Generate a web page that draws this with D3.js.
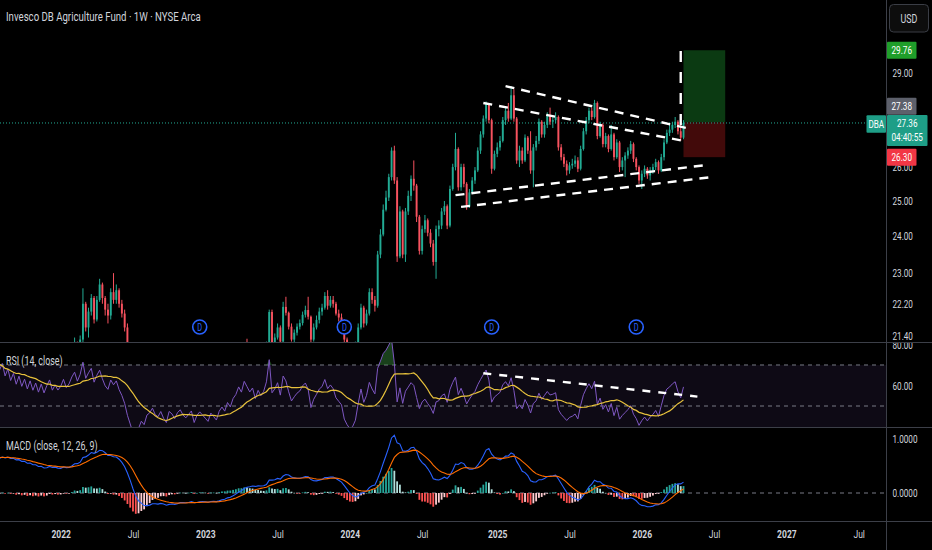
<!DOCTYPE html>
<html>
  <head>
    <meta charset="utf-8">
    <title>DBA 1W</title>
    <script type="text/javascript" src="https://cdn.jsdelivr.net/npm/d3@7/dist/d3.min.js"></script>
    <style>
      body { margin: 0; background: #000; }
      svg { display: block; }
      text { font-family: Roboto, "Noto Sans", sans-serif; }
    </style>
  </head>
  <body>
<script type="text/javascript">
// weekly bars: close, or [close, high, low]; open = prior close
var bars2020 = [14.5, 14.7, 14.6, 14.8, 15.0, 14.9, 15.1, 15.3, 15.2, 15.4, 15.6, 15.5, 15.8];
var bars2021 = [16.0, 16.3, 16.1, 16.4, 16.6, 16.4, 16.8, 16.6, 16.5, 16.9, 16.7, 17.0, 17.2,
  17.0, 17.4, 17.8, 18.0, 18.3, 18.6, 18.2, 18.4, 18.6, 18.3, 18.0, 18.4, 18.2,
  18.6, 18.9, 18.5, 18.9, 19.0, 19.4, 19.05, 19.45, 19.1, 19.5, 19.15, 19.6, 19.25,
  19.65, 19.3, 19.75, 19.4, 19.8, 19.45, 19.9, 19.55, 19.95, 20.3, 19.9, 20.2, 20.0];
var bars2022 = [
  [20.2,20.35,19.95],[20.6,20.7,20.1],[20.3,20.75,20.2],[20.5,20.6,20.2],[20.9,21.0,20.4],
  [21.2,21.35,20.85],[20.9,21.25,20.8],[21.3,21.4,20.85],[22.2,22.6,21.1],
  [21.6,22.25,21.5],[22.0,22.1,21.35],[22.35,22.45,21.9],[21.8,22.4,21.7],
  [22.3,22.4,21.75],[22.7,22.85,22.25],[22.35,22.75,22.2],[22.05,22.4,21.9],
  [21.9,22.2,21.7],[22.5,22.6,21.8],[22.3,23.0,22.2],[22.55,22.7,22.2],[22.2,22.6,22.1],
  [21.95,22.3,21.85],[21.6,22.05,21.5],[21.0,21.7,20.9],[20.5,21.1,20.3],
  19.9, 19.7, 20.0, 20.3,
  20.1, 20.5, 20.6, 20.8, 20.5,
  20.4, 20.6, 20.3, 20.1,
  20.5, 20.4, 20.2, 20.4, 20.5,
  20.3, 20.2, 20.3, 20.4,
  20.0, 20.2, 20.3, 20.2];
var bars2023 = [
  20.1, 20.0, 20.2, 20.1, 20.0,
  20.2, 20.3, 20.2, 20.4,
  20.3, 20.5, 20.6, 20.8,
  20.7, 21.0, [20.9,21.32,20.8], 20.8,
  20.9, 20.7, 20.9, 20.8, 20.9,
  [21.15,21.25,20.8],[21.99,22.05,21.1],[21.2,22.05,21.1],[21.35,21.45,21.1],
  [21.6,21.7,21.3],[21.25,21.65,21.15],[22.12,22.25,21.2],[21.97,22.38,21.9],[21.62,22.0,21.55],
  [21.3,21.7,21.25],[21.47,21.55,21.15],[21.62,21.7,21.4],[21.71,21.8,21.55],
  [21.92,22.0,21.65],[22.04,22.15,21.85],[21.87,22.38,21.8],[21.3,21.9,21.2],
  [21.6,21.7,21.25],[21.79,21.9,21.55],[22.0,22.1,21.7],[22.1,22.2,21.9],[22.4,22.5,22.05],
  [22.15,22.55,22.05],[22.3,22.4,22.1],[22.2,22.4,22.1],[21.95,22.25,21.9],
  [21.85,22.05,21.75],[21.75,21.95,21.6],[21.3,21.8,21.2],[21.1,21.35,21.0]];
var bars2024 = [
  [20.95,21.15,20.85],[21.0,21.1,20.8],[21.15,21.25,20.95],[21.6,21.7,21.1],[22.1,22.2,21.55],
  [21.7,22.15,21.6],[21.95,22.05,21.65],[22.5,22.6,21.9],[22.3,22.6,22.2],
  [22.15,22.4,22.0],[23.5,23.6,22.1],[24.05,24.2,23.4],[24.75,24.9,24.0],
  [25.1,25.3,24.7],[25.7,25.8,25.0],[26.5,26.6,25.6],[25.6,26.65,25.5],[23.45,25.7,23.3],
  [24.7,24.85,23.4],[23.5,24.75,23.4],[24.7,24.8,23.3],[25.15,25.3,24.6],
  [25.65,25.75,25.0],[25.45,26.2,25.3],[24.55,25.5,24.4],[23.6,24.6,23.5],
  [24.2,24.3,23.5],[24.45,24.6,24.1],[24.1,24.5,24.0],[23.8,24.2,23.7],[23.3,23.9,23.2],
  [24.2,24.3,22.85],[24.3,24.45,24.0],[24.7,24.8,24.2],[24.85,25.0,24.6],
  [24.3,24.9,24.2],[25.35,25.45,24.25],[26.0,26.1,25.3],[26.55,27.05,25.9],[25.4,26.6,25.3],
  [26.0,26.1,25.3],[25.5,26.1,25.4],[24.85,25.55,24.75],[25.25,25.35,24.8],
  [25.6,25.7,25.2],[25.9,26.0,25.5],[26.5,26.6,25.85],[27.0,27.1,26.4],
  [27.5,27.6,26.9],[28.0,28.05,27.4],[27.45,28.0,27.35],[25.95,27.5,25.8],[26.4,26.5,25.9]];
var bars2025 = [
  [26.6,26.75,26.3],[26.8,26.95,26.5],[27.45,27.55,26.75],[27.75,27.9,27.3],
  [27.5,28.0,27.4],[28.25,28.55,27.45],[27.5,28.45,27.4],[26.2,27.55,26.1],
  [26.5,26.65,26.0],[26.2,26.6,26.1],[26.9,27.0,26.15],[26.5,26.95,26.4],[25.9,27.1,25.8],
  [26.6,26.7,25.4],[26.8,26.95,26.5],[27.4,27.5,26.7],[27.0,27.45,26.9],
  [27.3,27.4,26.9],[27.6,27.7,27.2],[27.4,27.85,27.3],[27.45,27.6,27.2],
  [27.55,27.7,27.35],[26.6,27.6,26.5],[26.3,26.7,26.2],[26.1,26.4,26.0],[25.9,26.2,25.75],
  [26.05,26.15,25.8],[26.1,26.25,25.95],[26.2,26.35,26.0],[25.95,26.3,25.85],
  [26.55,26.65,25.9],[27.1,27.2,26.5],[27.45,27.55,27.0],[27.75,27.85,27.35],
  [27.55,27.85,27.45],[28.0,28.1,27.5],[26.95,28.05,26.85],[27.3,27.4,26.9],[26.7,27.35,26.6],
  [26.95,27.05,26.6],[26.55,27.0,26.45],[27.0,27.3,26.5],[26.3,27.05,26.2],
  [26.75,26.85,26.25],[26.0,26.8,25.85],[26.2,26.3,25.9],[26.35,26.45,25.7],
  [26.5,26.6,26.25],[26.7,26.8,26.4],[26.25,26.75,26.15],[26.0,26.3,25.9],[25.6,26.05,25.5]];
var bars2026 = [
  [25.8,25.9,25.35],[25.95,26.05,25.7],[25.75,26.0,25.65],[25.9,26.0,25.6],
  [26.0,26.1,25.8],[26.15,26.25,25.9],[25.9,26.2,25.8],[26.3,26.4,25.85],
  [26.75,26.85,26.2],[27.05,27.15,26.7],[27.15,27.3,26.95],[27.3,27.4,27.05],[27.4,27.55,27.2],
  [27.1,27.45,27.0],[26.9,27.3,26.8],[27.36,27.45,26.85]];
var yearStarts = [["2020-10-05", bars2020], ["2021-01-04", bars2021], ["2022-01-03", bars2022],
  ["2023-01-02", bars2023], ["2024-01-01", bars2024], ["2025-01-06", bars2025], ["2026-01-05", bars2026]];

var title = "Invesco DB Agriculture Fund \u00b7 1W \u00b7 NYSE Arca";
var symbol = "DBA", lastPrice = 27.36, countdown = "04:40:55";
var position = {start: "2026-04-20", end: "2026-08-03", target: 29.76, entry: 27.38, stop: 26.30};
var priceTicks = [29, 26, 25, 24, 23, 22.2, 21.4];
var rsiTicks = [80, 60];
var macdTicks = [1, 0];
var timeTicks = ["2022-01-03", "2022-07-04", "2023-01-02", "2023-07-03", "2024-01-01", "2024-07-01",
  "2025-01-06", "2025-07-07", "2026-01-05", "2026-07-06", "2027-01-04", "2027-07-05"];
var timeLabels = ["2022", "Jul", "2023", "Jul", "2024", "Jul", "2025", "Jul", "2026", "Jul", "2027", "Jul"];
var dividends = ["2022-12-19", "2023-12-18", "2024-12-23", "2025-12-22"];
// hand drawn lines: [date, price]
var priceLines = [
  [["2025-01-27", 28.55], ["2026-05-04", 27.18]],
  [["2024-12-02", 28.0], ["2026-04-20", 26.8]],
  [["2024-09-23", 25.17], ["2026-06-15", 26.06]],
  [["2024-10-07", 24.83], ["2026-06-29", 25.7]]
];
var markLine = [["2026-04-13", 27.3], ["2026-04-13", 29.95]];
var rsiLine = [["2024-12-02", 66.0], ["2026-05-25", 54.6]];

var w = 932, h = 550, axisX = 886;
var up = "#22ab94", down = "#f7525f";
var parse = d3.utcParse("%Y-%m-%d");

var bars = [];
yearStarts.forEach(function(ys) {
  var d0 = parse(ys[0]);
  ys[1].forEach(function(v, i) {
    var c = Array.isArray(v) ? v[0] : v;
    bars.push({date: d3.utcDay.offset(d0, 7 * i), c: c,
      hi: Array.isArray(v) ? v[1] : c, lo: Array.isArray(v) ? v[2] : c});
  });
});
bars.forEach(function(d, i) {
  d.o = i ? bars[i - 1].c : d.c;
  d.high = Math.max(d.hi, d.o, d.c);
  d.low = Math.min(d.lo, d.o, d.c);
});

// indicators from the closes
function ema(src, n) {
  var a = 2 / (n + 1), out = [], prev;
  src.forEach(function(v, i) { prev = i === 0 ? v : a * v + (1 - a) * prev; out.push(prev); });
  return out;
}
var closes = bars.map(function(d) { return d.c; });
var e12 = ema(closes, 12), e26 = ema(closes, 26);
var macd = e12.map(function(v, i) { return v - e26[i]; });
var signal = ema(macd, 9);
bars.forEach(function(d, i) { d.macd = macd[i]; d.sig = signal[i]; d.hist = macd[i] - signal[i]; });

var ag = 0, al = 0;
bars.forEach(function(d, i) {
  d.rsi = null;
  if (i === 0) return;
  var ch = d.c - bars[i - 1].c, g = Math.max(ch, 0), l = Math.max(-ch, 0);
  if (i <= 14) { ag += g; al += l; if (i === 14) { ag /= 14; al /= 14; } else return; }
  else { ag = (ag * 13 + g) / 14; al = (al * 13 + l) / 14; }
  d.rsi = al === 0 ? 100 : 100 - 100 / (1 + ag / al);
});
bars.forEach(function(d, i) {
  d.rsiMa = null;
  if (i < 27) return;
  d.rsiMa = d3.mean(bars.slice(i - 13, i + 1), function(b) { return b.rsi; });
});

var svg = d3.select("body").append("svg").attr("width", w).attr("height", h)
  .style("background", "#000");

var x = d3.scaleUtc().domain([parse("2022-01-03"), parse("2026-01-05")]).range([60.7, 641.8]);
var yP = d3.scaleLog().domain([21.24, 31.54]).range([342, 0]);
var yR = d3.scaleLinear().domain([39.76, 80.73]).range([427, 343]);
var yM = d3.scaleLinear().domain([-0.5185, 1.2037]).range([521, 428]);

var defs = svg.append("defs");
function clip(id, y0, y1, x0, x1) {
  defs.append("clipPath").attr("id", id).append("rect")
    .attr("x", x0).attr("y", y0).attr("width", x1 - x0).attr("height", y1 - y0);
}
clip("cp", 0, 342, 0, axisX);
clip("cr", 343, 427, 0, axisX);
clip("cm", 428, 521, 0, axisX);
clip("ar", 343, 427, axisX, w);
clip("am", 428, 521, axisX, w);

// ---- price pane
var gP = svg.append("g").attr("clip-path", "url(#cp)");

// long position box
gP.append("rect").attr("x", x(parse(position.start))).attr("width", x(parse(position.end)) - x(parse(position.start)))
  .attr("y", yP(position.target)).attr("height", yP(position.entry) - yP(position.target)).attr("fill", "#0b3a12");
gP.append("rect").attr("x", x(parse(position.start))).attr("width", x(parse(position.end)) - x(parse(position.start)))
  .attr("y", yP(position.entry)).attr("height", yP(position.stop) - yP(position.entry)).attr("fill", "#420a0a");

gP.append("line").attr("x1", 0).attr("x2", axisX).attr("y1", yP(lastPrice)).attr("y2", yP(lastPrice))
  .attr("stroke", up).attr("stroke-dasharray", "1,2").attr("stroke-width", 1);

var color = function(d) { return d.c >= d.o ? up : down; };
var cg = gP.selectAll("g.bar").data(bars).enter().append("g").attr("class", "bar");
cg.append("line")
  .attr("x1", function(d) { return x(d.date); }).attr("x2", function(d) { return x(d.date); })
  .attr("y1", function(d) { return yP(d.high); }).attr("y2", function(d) { return yP(d.low); })
  .attr("stroke", color).attr("stroke-width", 1);
cg.append("rect")
  .attr("x", function(d) { return x(d.date) - 0.95; }).attr("width", 1.9)
  .attr("y", function(d) { return yP(Math.max(d.o, d.c)); })
  .attr("height", function(d) { return Math.max(0.8, Math.abs(yP(d.o) - yP(d.c))); })
  .attr("fill", color);

var ptLine = d3.line().x(function(p) { return x(parse(p[0])); }).y(function(p) { return yP(p[1]); });
priceLines.forEach(function(l) {
  gP.append("path").attr("d", ptLine(l)).attr("stroke", "#fff").attr("stroke-width", 2.4)
    .attr("stroke-dasharray", "9,7").attr("fill", "none");
});
gP.append("path").attr("d", ptLine(markLine)).attr("stroke", "#fff").attr("stroke-width", 2.4)
  .attr("stroke-dasharray", "11,10").attr("fill", "none");

// dividend marks
var dv = gP.selectAll("g.div").data(dividends).enter().append("g")
  .attr("transform", function(d) { return "translate(" + x(parse(d)) + ",327)"; });
dv.append("circle").attr("r", 7).attr("fill", "#000").attr("stroke", "#2962ff").attr("stroke-width", 1.6);
dv.append("text").attr("text-anchor", "middle").attr("dy", "0.35em").attr("font-size", 10)
  .attr("fill", "#2962ff").text("D");

// ---- RSI pane
var gR = svg.append("g").attr("clip-path", "url(#cr)");
gR.append("rect").attr("x", 0).attr("width", axisX).attr("y", yR(70)).attr("height", 427 - yR(70))
  .attr("fill", "rgba(126,87,194,0.11)");
[70, 50].forEach(function(v) {
  gR.append("line").attr("x1", 0).attr("x2", axisX).attr("y1", yR(v)).attr("y2", yR(v))
    .attr("stroke", "#787b86").attr("stroke-dasharray", "4,4");
});
var rs = bars.filter(function(d) { return d.rsi !== null; });
gR.append("path").datum(rs)
  .attr("d", d3.area().x(function(d) { return x(d.date); }).y0(yR(70))
    .y1(function(d) { return yR(Math.max(70, d.rsi)); }))
  .attr("fill", "rgba(56,142,60,0.45)");
gR.append("path").datum(rs)
  .attr("d", d3.line().x(function(d) { return x(d.date); }).y(function(d) { return yR(d.rsi); }))
  .attr("stroke", "#7e57c2").attr("stroke-width", 1).attr("fill", "none");
gR.append("path").datum(bars.filter(function(d) { return d.rsiMa !== null; }))
  .attr("d", d3.line().x(function(d) { return x(d.date); }).y(function(d) { return yR(d.rsiMa); }))
  .attr("stroke", "#e8c23c").attr("stroke-width", 1.2).attr("fill", "none");
gR.append("path")
  .attr("d", d3.line().x(function(p) { return x(parse(p[0])); }).y(function(p) { return yR(p[1]); })(rsiLine))
  .attr("stroke", "#fff").attr("stroke-width", 2.4).attr("stroke-dasharray", "8,8").attr("fill", "none");

// ---- MACD pane
var gM = svg.append("g").attr("clip-path", "url(#cm)");
gM.append("line").attr("x1", 0).attr("x2", axisX).attr("y1", yM(0)).attr("y2", yM(0))
  .attr("stroke", "#787b86").attr("stroke-dasharray", "4,4");
gM.selectAll("rect.h").data(bars).enter().append("rect")
  .attr("x", function(d) { return x(d.date) - 0.9; }).attr("width", 1.8)
  .attr("y", function(d) { return Math.min(yM(0), yM(d.hist)); })
  .attr("height", function(d) { return Math.max(0.7, Math.abs(yM(d.hist) - yM(0))); })
  .attr("fill", function(d, i) {
    var p = i ? bars[i - 1].hist : d.hist;
    if (d.hist >= 0) return p < d.hist ? "#26a69a" : "#b2dfdb";
    return p < d.hist ? "#ffcdd2" : "#ff5252";
  });
gM.append("path").datum(bars)
  .attr("d", d3.line().x(function(d) { return x(d.date); }).y(function(d) { return yM(d.macd); }))
  .attr("stroke", "#2962ff").attr("stroke-width", 1.1).attr("fill", "none");
gM.append("path").datum(bars)
  .attr("d", d3.line().x(function(d) { return x(d.date); }).y(function(d) { return yM(d.sig); }))
  .attr("stroke", "#ff6d00").attr("stroke-width", 1.1).attr("fill", "none");

// ---- separators
var sep = "#3c3f48";
[342.5, 427.5, 521.5].forEach(function(y) {
  svg.append("line").attr("x1", 0).attr("x2", w).attr("y1", y).attr("y2", y).attr("stroke", sep);
});
svg.append("line").attr("x1", axisX + 0.5).attr("x2", axisX + 0.5).attr("y1", 0).attr("y2", h).attr("stroke", sep);

// ---- axes
function styleAxis(g, size) {
  g.select(".domain").remove();
  g.selectAll("line").remove();
  g.attr("font-family", null).attr("font-size", size);
  g.selectAll("text").attr("fill", "#d1d4dc");
}
svg.append("g").attr("transform", "translate(" + axisX + ",0)")
  .call(d3.axisRight(yP).tickValues(priceTicks).tickFormat(d3.format(".2f")).tickSize(0).tickPadding(6.5))
  .call(styleAxis, 11);
svg.append("g").attr("clip-path", "url(#ar)").append("g").attr("transform", "translate(" + axisX + ",0)")
  .call(d3.axisRight(yR).tickValues(rsiTicks).tickFormat(d3.format(".2f")).tickSize(0).tickPadding(6.5))
  .call(styleAxis, 11);
svg.append("g").attr("clip-path", "url(#am)").append("g").attr("transform", "translate(" + axisX + ",0)")
  .call(d3.axisRight(yM).tickValues(macdTicks).tickFormat(d3.format(".4f")).tickSize(0).tickPadding(6.5))
  .call(styleAxis, 11);
var gx = svg.append("g").attr("transform", "translate(0,521)")
  .call(d3.axisBottom(x).tickValues(timeTicks.map(parse)).tickFormat(function(d, i) { return timeLabels[i]; }).tickSize(0))
  .call(styleAxis, 11.5);
gx.selectAll("text").attr("y", 17).attr("dy", 0)
  .attr("font-weight", function(d, i) { return /^\d{4}$/.test(timeLabels[i]) ? "bold" : null; });

// ---- price scale labels
function tag(x0, yc, wd, ht, fill, lines) {
  svg.append("rect").attr("x", x0).attr("y", yc - ht / 2).attr("width", wd).attr("height", ht)
    .attr("fill", fill).attr("rx", 1);
  lines.forEach(function(s, i) {
    svg.append("text").attr("x", x0 + wd / 2).attr("y", yc - ht / 2 + 8.5 + i * 14).attr("dy", "0.35em")
      .attr("text-anchor", "middle").attr("font-size", 11).attr("fill", "#fff").text(s);
  });
}
tag(887, yP(position.target), 29.5, 17, "#1f9e2a", [position.target.toFixed(2)]);
tag(887, yP(position.entry) - 16, 29.5, 17, "#5d606b", [position.entry.toFixed(2)]);
tag(887, yP(position.stop), 29.5, 17, "#f23645", [position.stop.toFixed(2)]);
tag(866.5, 124, 19.5, 17.5, "#1e9e87", [symbol]);
tag(887, 130.5, 40.5, 31, "#1e9e87", [lastPrice.toFixed(2), countdown]);

// currency button
svg.append("rect").attr("x", 889.5).attr("y", 4.5).attr("width", 39).attr("height", 27.5).attr("rx", 4)
  .attr("fill", "#0d0d0d").attr("stroke", "#3a3d45");
svg.append("text").attr("x", 909).attr("y", 18.5).attr("dy", "0.35em").attr("text-anchor", "middle")
  .attr("font-size", 12).attr("fill", "#d1d4dc").text("USD");

// ---- titles
svg.append("text").attr("x", 6).attr("y", 21).attr("font-size", 13).attr("fill", "#d1d4dc").text(title);
svg.append("text").attr("x", 6).attr("y", 365).attr("font-size", 12).attr("fill", "#d1d4dc").text("RSI (14, close)");
svg.append("text").attr("x", 6).attr("y", 450).attr("font-size", 12).attr("fill", "#d1d4dc").text("MACD (close, 12, 26, 9)");

// the chart's font is narrow: squeeze every label horizontally
svg.selectAll("text").each(function() {
  var n = this.getComputedTextLength();
  if (n > 0) d3.select(this).attr("textLength", n * 0.74).attr("lengthAdjust", "spacingAndGlyphs");
});
</script>
  </body>
</html>
